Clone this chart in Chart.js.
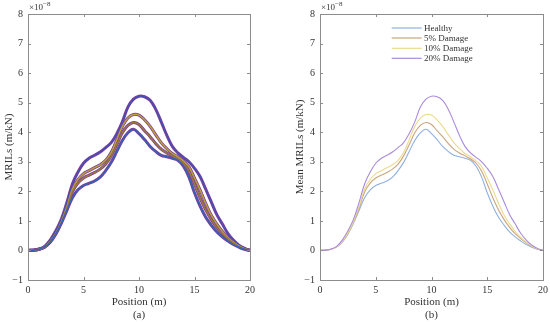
<!DOCTYPE html>
<html>
<head>
<meta charset="utf-8">
<script src="https://cdn.jsdelivr.net/npm/chart.js@4/dist/chart.umd.min.js"></script>
<style>
  html,body{margin:0;padding:0;background:#fff;}
  #wrap{position:relative;width:550px;height:322px;overflow:hidden;}
  canvas{position:absolute;top:0;}
</style>
</head>
<body>
<div id="wrap">
  <canvas id="ca" width="275" height="322" style="left:0"></canvas>
  <canvas id="cb" width="275" height="322" style="left:275px"></canvas>
</div>
<script>
// Positions along the bridge (m)
const positions = [0,0.5,1,1.5,2,2.5,3,3.5,4,4.5,5,5.5,6,6.5,7,7.5,8,8.5,9,9.5,10,10.5,11,11.5,12,12.5,13,13.5,14,14.5,15,15.5,16,16.5,17,17.5,18,18.5,19,19.5,20];
// Mean MRILs (x1e-8 m/kN)
const healthy = [0,0.01,0.04,0.12,0.28,0.55,0.92,1.35,1.78,2.05,2.2,2.27,2.35,2.48,2.7,2.98,3.35,3.72,3.98,4.1,3.95,3.75,3.52,3.35,3.22,3.17,3.12,3.05,2.85,2.48,1.95,1.5,1.13,0.86,0.63,0.46,0.32,0.2,0.11,0.04,0];
const damage5 = [0,0.01,0.04,0.12,0.29,0.57,0.95,1.42,1.98,2.28,2.45,2.55,2.64,2.75,2.92,3.2,3.58,3.98,4.23,4.33,4.26,4.05,3.85,3.62,3.43,3.3,3.2,3.1,2.95,2.68,2.25,1.78,1.38,1.05,0.78,0.57,0.4,0.26,0.14,0.05,0];
const damage10 = [0,0.01,0.04,0.12,0.3,0.58,0.97,1.48,2.08,2.4,2.6,2.7,2.8,2.9,3.05,3.32,3.75,4.2,4.48,4.6,4.58,4.42,4.2,3.92,3.65,3.45,3.28,3.17,3.03,2.83,2.45,2.05,1.6,1.2,0.9,0.65,0.44,0.28,0.15,0.06,0];
const damage20 = [0,0.01,0.05,0.14,0.35,0.66,1.05,1.62,2.25,2.65,2.95,3.12,3.22,3.33,3.48,3.65,3.95,4.35,4.85,5.12,5.22,5.2,5.08,4.78,4.35,3.9,3.52,3.3,3.15,3.0,2.78,2.5,2.08,1.65,1.22,0.9,0.58,0.35,0.18,0.07,0];
const seriesNames = ['Healthy','5% Damage','10% Damage','20% Damage'];
const xTicks = [0,5,10,15,20];
const yTicks = [-1,0,1,2,3,4,5,6,7,8];

const allSeries = [healthy, damage5, damage10, damage20];
const meanColors = ['#8fb0e0','#c9a57e','#ecd98e','#a98bdd'];
const groupColors = ['#3462b8','#9a7a3a','#b9a03a','#4b4db2'];
const baseColor = '#7e3f96';

const FONT = '"Liberation Serif","Times New Roman",serif';
const TXT = '#333333';
const FRAME = '#8c8c8c';

function pts(arr){ return arr.map((v,i)=>({x:positions[i], y:v})); }

function framePlugin(opts){
  return {
    id:'frame'+opts.tag,
    afterDraw(chart){
      const ctx = chart.ctx, a = chart.chartArea;
      const xs = chart.scales.x, ys = chart.scales.y;
      ctx.save();
      ctx.strokeStyle = FRAME; ctx.lineWidth = 1;
      ctx.strokeRect(Math.round(a.left)+0.5, Math.round(a.top)+0.5, Math.round(a.right-a.left), Math.round(a.bottom-a.top));
      ctx.beginPath();
      const tl = 3;
      xTicks.forEach(t=>{
        const px = Math.round(xs.getPixelForValue(t))+0.5;
        ctx.moveTo(px,a.bottom); ctx.lineTo(px,a.bottom-tl);
        ctx.moveTo(px,a.top); ctx.lineTo(px,a.top+tl);
      });
      yTicks.forEach(t=>{
        const py = Math.round(ys.getPixelForValue(t))+0.5;
        ctx.moveTo(a.left,py); ctx.lineTo(a.left+tl,py);
        ctx.moveTo(a.right,py); ctx.lineTo(a.right-tl,py);
      });
      ctx.stroke();
      // exponent
      ctx.fillStyle = TXT;
      ctx.textBaseline = 'alphabetic'; ctx.textAlign='left';
      ctx.font = '9px '+FONT;
      ctx.fillText('×10', a.left+1, 10);
      const w = ctx.measureText('×10').width;
      ctx.font = '7px '+FONT;
      ctx.fillText('−8', a.left+1+w, 6);
      // axis titles
      ctx.font = '11px '+FONT;
      ctx.textAlign='center'; ctx.textBaseline='middle';
      const cx = (a.left+a.right)/2;
      ctx.fillText('Position (m)', cx, 302.5);
      ctx.fillText(opts.sub, cx, 315);
      ctx.save();
      ctx.translate(opts.ytx, (a.top+a.bottom)/2);
      ctx.rotate(-Math.PI/2);
      ctx.fillText(opts.ytitle, 0, 0);
      ctx.restore();
      if(opts.legend){
        ctx.font = '9px '+FONT;
        ctx.textAlign='left'; ctx.textBaseline='middle';
        const rows = [28,38,48.3,58.3];
        seriesNames.forEach((n,i)=>{
          ctx.strokeStyle = meanColors[i]; ctx.lineWidth = 1.2;
          ctx.beginPath(); ctx.moveTo(116.7, rows[i]); ctx.lineTo(146.7, rows[i]); ctx.stroke();
          ctx.fillStyle = TXT;
          ctx.fillText(n, 149, rows[i]+0.5);
        });
      }
      ctx.restore();
    }
  };
}

function scales(yw){
  return {
    x:{type:'linear',min:0,max:20,
       grid:{display:false,drawTicks:false},border:{display:false},
       ticks:{stepSize:5,padding:4,color:TXT,font:{family:FONT,size:10},maxRotation:0,
              callback:v=>String(v)},
       afterBuildTicks(s){ s.ticks = xTicks.map(v=>({value:v})); },
       afterFit(s){ s.height = 42; s.paddingLeft=0; s.paddingRight=0; }},
    y:{type:'linear',min:-1,max:8,
       grid:{display:false,drawTicks:false},border:{display:false},
       ticks:{stepSize:1,padding:5,color:TXT,font:{family:FONT,size:10},
              callback:v=> v<0 ? '−'+Math.abs(v) : String(v)},
       afterBuildTicks(s){ s.ticks = yTicks.map(v=>({value:v})); },
       afterFit(s){ s.width = yw; s.paddingTop=0; s.paddingBottom=0; }}
  };
}

// Left panel: bands of individual measurements (purple outer, coloured core)
const leftSets = [];
allSeries.forEach((arr,i)=>{
  leftSets.push({data:pts(arr),borderColor:baseColor,borderWidth:3,pointRadius:0,tension:0.4,fill:false,order:10});
  leftSets.push({data:pts(arr),borderColor:groupColors[i],borderWidth:1.5,pointRadius:0,tension:0.4,fill:false,order:1});
});

new Chart(document.getElementById('ca'),{
  type:'line',
  data:{datasets:leftSets},
  options:{responsive:false,animation:false,
    layout:{padding:{top:14,right:25,left:0,bottom:0}},
    plugins:{legend:{display:false},tooltip:{enabled:false}},
    scales:scales(28)},
  plugins:[framePlugin({tag:'a',sub:'(a)',ytitle:'MRILs (m/kN)',ytx:9.5,legend:false})]
});

new Chart(document.getElementById('cb'),{
  type:'line',
  data:{datasets:allSeries.map((arr,i)=>({label:seriesNames[i],data:pts(arr),borderColor:meanColors[i],borderWidth:1.1,pointRadius:0,tension:0.4,fill:false,order:4-i}))},
  options:{responsive:false,animation:false,
    layout:{padding:{top:14,right:7,left:0,bottom:0}},
    plugins:{legend:{display:false},tooltip:{enabled:false}},
    scales:scales(45)},
  plugins:[framePlugin({tag:'b',sub:'(b)',ytitle:'Mean MRILs (m/kN)',ytx:25,legend:true})]
});
</script>
</body>
</html>
